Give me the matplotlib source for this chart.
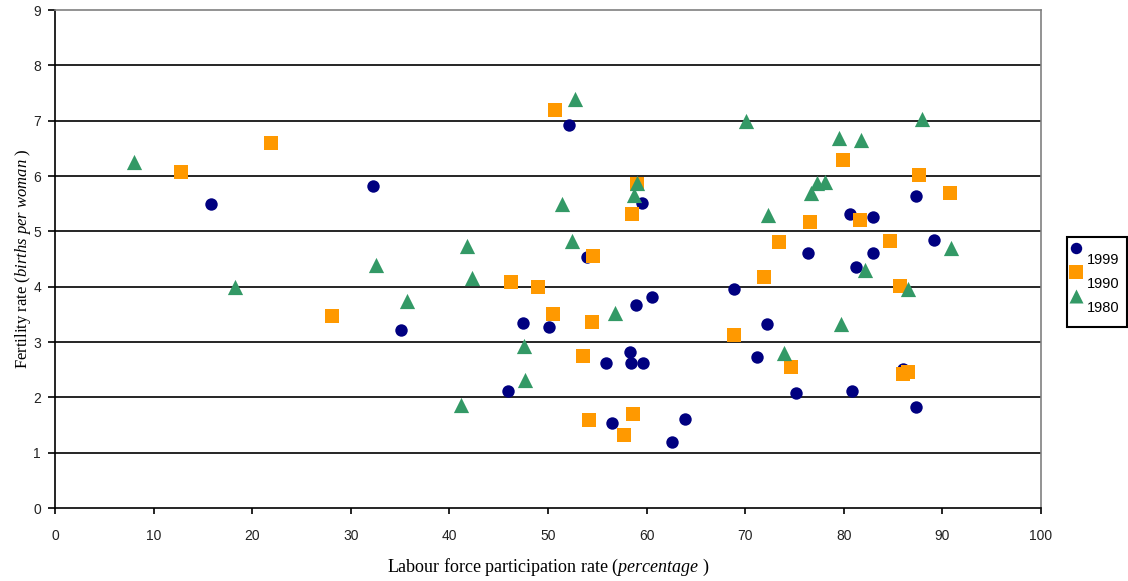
import matplotlib
matplotlib.use("Agg")
import matplotlib.pyplot as plt
from matplotlib.patches import Rectangle

# ---- data ----
x_1999 = [15.8, 32.3, 35.1, 52.1, 54.0, 59.5, 47.5, 50.1, 45.9, 55.9, 58.3, 58.4,
          59.6, 58.9, 60.5, 56.5, 62.6, 63.9, 68.9, 71.2, 72.2, 75.2, 76.4, 80.6,
          81.2, 83.0, 83.0, 87.3, 89.1, 80.8, 86.0, 87.3]
y_1999 = [5.50, 5.82, 3.22, 6.92, 4.54, 5.51, 3.34, 3.27, 2.11, 2.62, 2.82, 2.62,
          2.62, 3.67, 3.81, 1.54, 1.19, 1.61, 3.96, 2.72, 3.33, 2.08, 4.61, 5.32,
          4.36, 5.26, 4.61, 5.63, 4.84, 2.12, 2.52, 1.83]

x_1990 = [12.8, 21.9, 28.1, 50.7, 59.0, 58.5, 54.6, 46.2, 49.0, 50.5, 54.5, 53.6,
          54.2, 58.6, 57.7, 68.9, 71.9, 74.6, 85.7, 86.0, 86.5, 73.4, 76.6, 79.9,
          81.6, 84.7, 87.6, 90.8]
y_1990 = [6.08, 6.60, 3.47, 7.19, 5.85, 5.32, 4.56, 4.09, 4.00, 3.51, 3.37, 2.75,
          1.59, 1.70, 1.32, 3.13, 4.17, 2.54, 4.02, 2.42, 2.46, 4.81, 5.17, 6.29,
          5.21, 4.83, 6.01, 5.70]

x_1980 = [8.0, 18.3, 32.6, 35.7, 41.8, 42.3, 41.2, 47.6, 47.7, 52.7, 51.4, 52.4,
          59.0, 58.7, 56.8, 70.1, 72.3, 76.7, 77.3, 78.1, 79.5, 81.7, 87.9, 90.9,
          82.1, 86.5, 79.7, 73.9]
y_1980 = [6.26, 4.00, 4.40, 3.74, 4.74, 4.15, 1.87, 2.93, 2.31, 7.39, 5.49, 4.83,
          5.88, 5.66, 3.53, 7.00, 5.30, 5.70, 5.88, 5.89, 6.69, 6.65, 7.03, 4.69,
          4.30, 3.96, 3.33, 2.81]

x_ticks = list(range(0, 101, 10))
y_ticks = list(range(0, 10))

plt.rcParams['mathtext.fontset'] = 'custom'
plt.rcParams['mathtext.rm'] = 'Liberation Serif'
plt.rcParams['mathtext.it'] = 'Liberation Serif:italic'

W, H = 1128, 581
fig = plt.figure(figsize=(W / 100, H / 100), dpi=100)
ax = fig.add_axes([55 / W, 73 / H, (1041 - 55) / W, (508 - 10) / H])

for yv in range(1, 9):
    ax.axhline(yv, color='black', lw=1.2, zorder=1)

ax.scatter(x_1999, y_1999, marker='o', s=80, color='#000080', linewidths=0, zorder=3, label='1999')
ax.scatter(x_1990, y_1990, marker='s', s=110, color='#FF9900', linewidths=0, zorder=3, label='1990')
ax.scatter(x_1980, y_1980, marker='^', s=120, color='#339966', linewidths=0, zorder=3, label='1980')

ax.set_xlim(0, 100)
ax.set_ylim(0, 9)
ax.set_xticks(x_ticks)
ax.set_yticks(y_ticks)
ax.tick_params(axis='x', direction='out', length=4, width=1.2, pad=11,
               labelsize=10, labelfontfamily='Liberation Sans', labelcolor='#222222')
ax.tick_params(axis='y', direction='out', length=5, width=1.2, pad=5,
               labelsize=10, labelfontfamily='Liberation Sans', labelcolor='#222222')

for s in ['left', 'bottom']:
    ax.spines[s].set_color('black')
    ax.spines[s].set_linewidth(1.2)
for s in ['top', 'right']:
    ax.spines[s].set_color('#808080')
    ax.spines[s].set_linewidth(1.2)

ax.set_xlabel(r'Labour force participation rate ($\mathit{percentage}$ )',
              family='Liberation Serif', fontsize=13, labelpad=10)
ax.set_ylabel(r'Fertility rate ($\mathit{births\ per\ woman}$ )',
              family='Liberation Serif', fontsize=12, labelpad=0)

leg = fig.legend(loc='center left', bbox_to_anchor=(1072 / W, (H - 284) / H),
                 frameon=False,
                 prop={'family': 'Liberation Sans', 'size': 10.5},
                 markerscale=0.92, handletextpad=0.4, borderpad=0,
                 labelspacing=0.68, handlelength=0.6, borderaxespad=0,
                 scatteryoffsets=[1.6])
fig.patches.append(Rectangle((1067 / W, (H - 327) / H), 60 / W, 90 / H,
                             transform=fig.transFigure, fill=False,
                             edgecolor='black', lw=1.5))

fig.savefig('out.png', dpi=100)
